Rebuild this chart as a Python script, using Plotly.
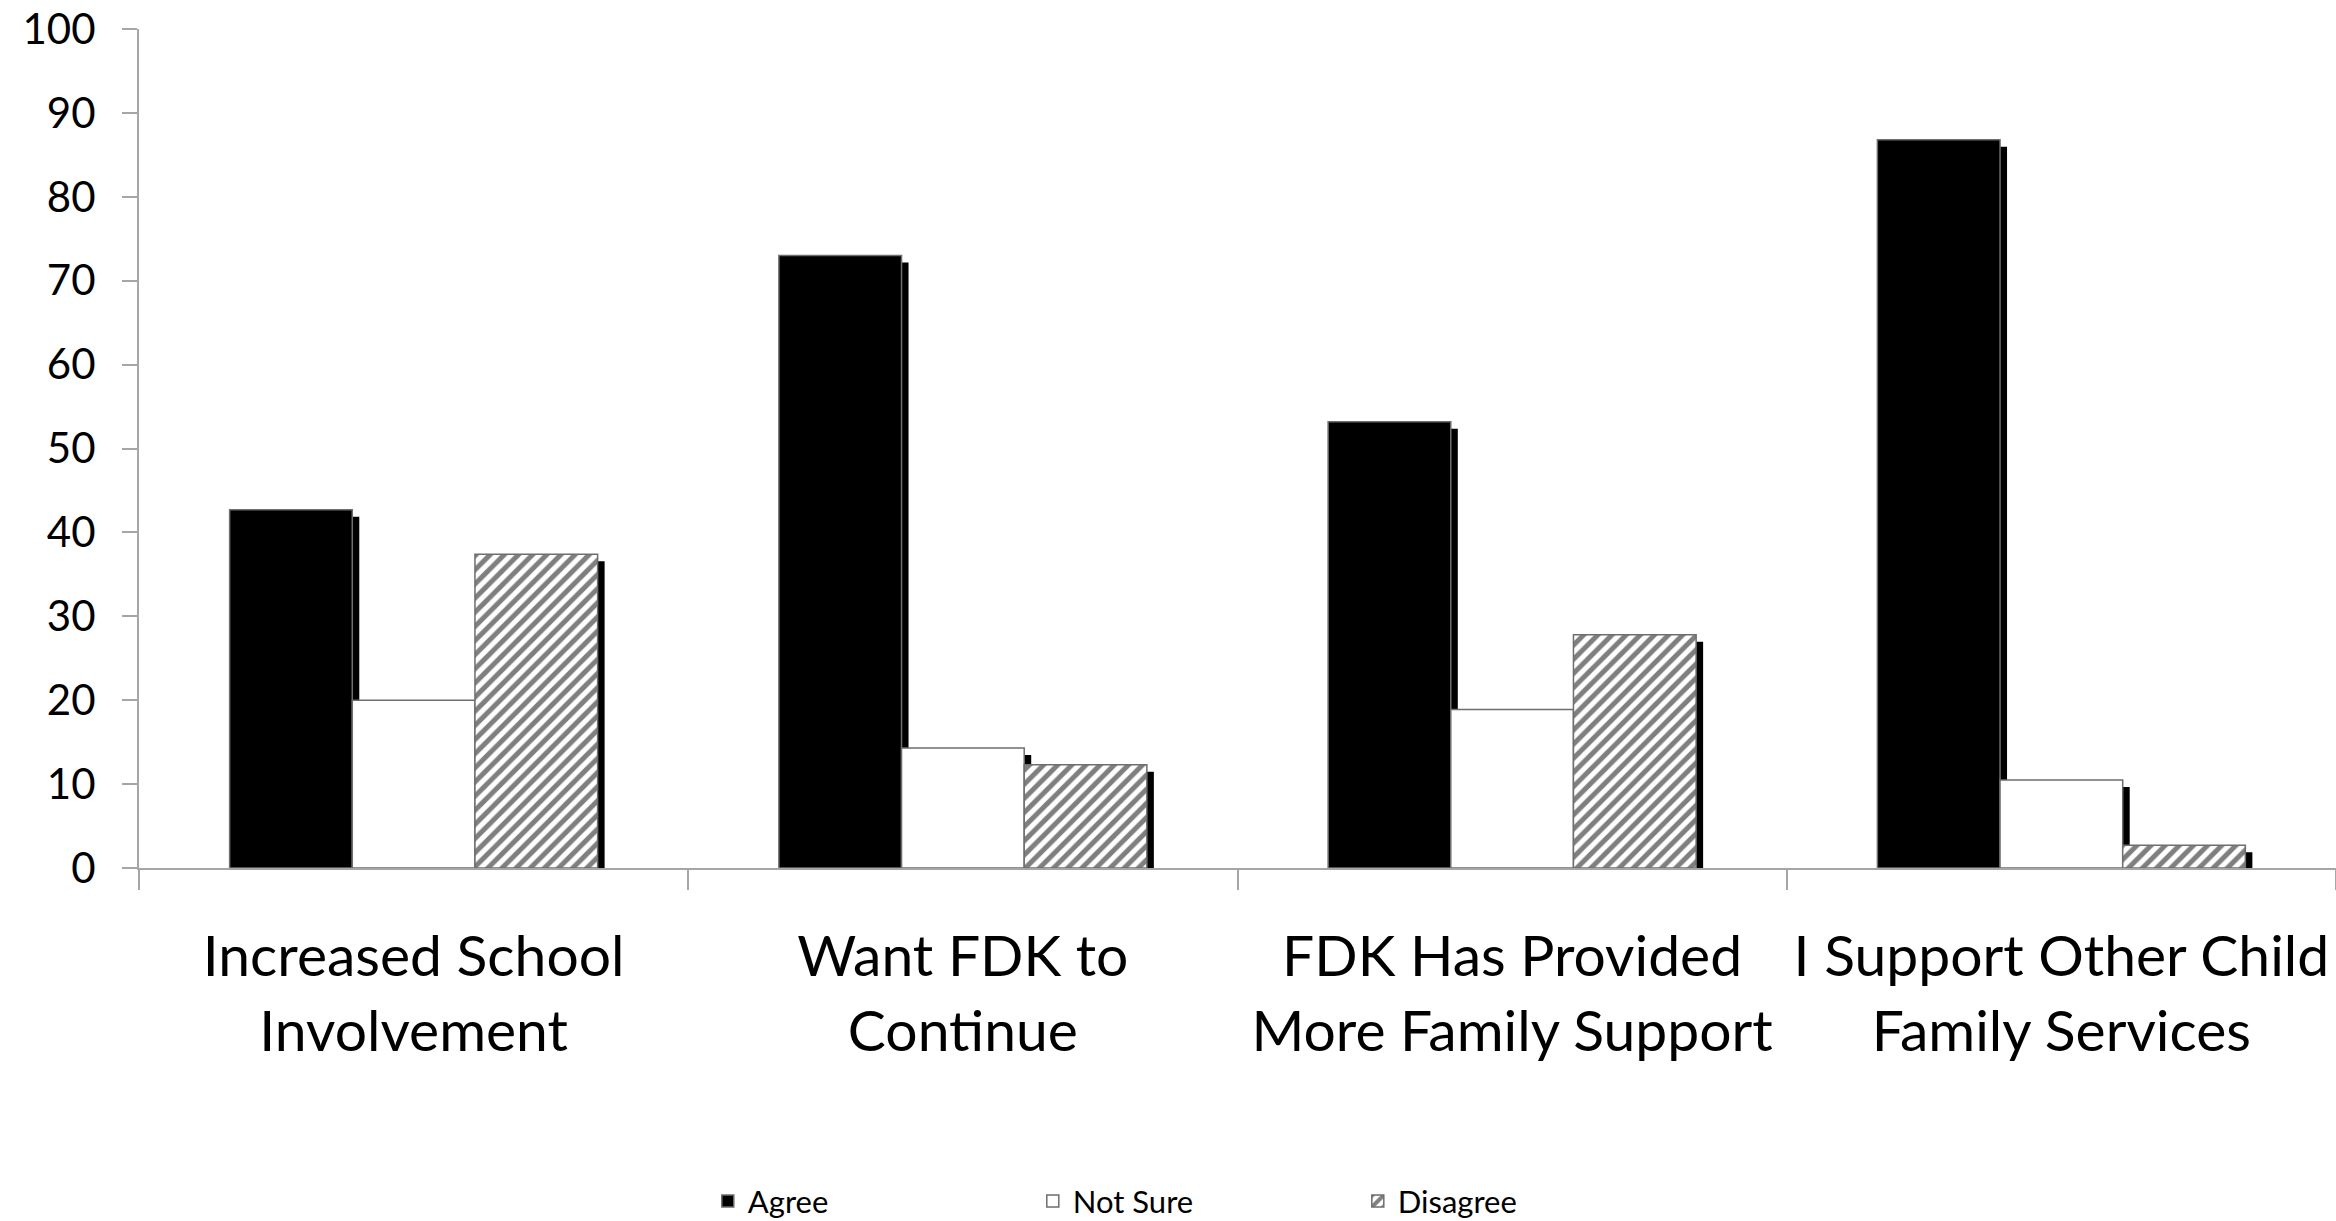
import plotly.graph_objects as go

# Survey responses (% of respondents) per statement
categories = [
    "Increased School<br>Involvement",
    "Want FDK to<br>Continue",
    "FDK Has Provided<br>More Family Support",
    "I Support Other Child<br>Family Services",
]
agree = [42.7, 73.0, 53.2, 86.8]
not_sure = [20.0, 14.3, 18.9, 10.5]
disagree = [37.4, 12.3, 27.8, 2.7]

series_names = ["Agree", "Not Sure", "Disagree"]
series_values = [agree, not_sure, disagree]

FONT = "Lato"
AXIS_GRAY = "#a6a6a6"
OUTLINE = "#6e6e6e"

# Plot-area geometry (pixels) used to translate the drop-shadow offset
FIG_W, FIG_H = 2336, 1221
M_L, M_R, M_T, M_B = 139, 0, 29, 353
plot_w = FIG_W - M_L - M_R
plot_h = FIG_H - M_T - M_B
SHADOW_PX = 7
dx = SHADOW_PX * len(categories) / plot_w
dy = SHADOW_PX * 100 / plot_h


def marker_for(name):
    if name == "Agree":
        return dict(color="black", line=dict(color=OUTLINE, width=1.5))
    if name == "Not Sure":
        return dict(color="white", line=dict(color=OUTLINE, width=1.5))
    return dict(
        color="white",
        line=dict(color=OUTLINE, width=1.5),
        pattern=dict(shape="/", fgcolor="black", bgcolor="white", size=10, solidity=0.5),
    )


fig = go.Figure()

# Drop shadows: same bars on a hidden pair of axes nudged right and down
for name, vals in zip(series_names, series_values):
    fig.add_trace(
        go.Bar(
            x=categories,
            y=vals,
            name=name + " shadow",
            marker=dict(color="black", line=dict(width=0)),
            xaxis="x",
            yaxis="y",
            showlegend=False,
            hoverinfo="skip",
        )
    )

# Main bars on the visible axes, layered above the shadows
for name, vals in zip(series_names, series_values):
    fig.add_trace(
        go.Bar(
            x=categories,
            y=vals,
            name=name,
            marker=marker_for(name),
            xaxis="x2",
            yaxis="y2",
        )
    )

fig.update_layout(
    width=FIG_W,
    height=FIG_H,
    margin=dict(l=M_L, r=M_R, t=M_T, b=M_B, autoexpand=False),
    paper_bgcolor="white",
    plot_bgcolor="white",
    barmode="group",
    bargap=0.33,
    bargroupgap=0,
    font=dict(family=FONT, color="black"),
    xaxis=dict(
        type="category",
        range=[-0.5 - dx, len(categories) - 0.5 - dx],
        visible=False,
        fixedrange=True,
        automargin=False,
    ),
    yaxis=dict(
        range=[dy, 100 + dy],
        visible=False,
        fixedrange=True,
        automargin=False,
    ),
    xaxis2=dict(
        type="category",
        overlaying="x",
        anchor="y2",
        side="bottom",
        range=[-0.5, len(categories) - 0.5],
        showline=True,
        linecolor=AXIS_GRAY,
        linewidth=2,
        showgrid=False,
        zeroline=False,
        ticks="outside",
        tickson="boundaries",
        ticklen=20,
        tickwidth=2,
        tickcolor=AXIS_GRAY,
        tickangle=0,
        automargin=False,
        tickfont=dict(family=FONT, size=57, color="black"),
        ticklabelstandoff=38,
    ),
    yaxis2=dict(
        overlaying="y",
        anchor="x2",
        side="left",
        range=[0, 100],
        tickmode="array",
        tickvals=list(range(0, 101, 10)),
        ticktext=[str(v) for v in range(0, 101, 10)],
        showline=True,
        linecolor=AXIS_GRAY,
        linewidth=2,
        showgrid=False,
        zeroline=False,
        ticks="outside",
        ticklen=15,
        tickwidth=2,
        tickcolor=AXIS_GRAY,
        automargin=False,
        tickfont=dict(family=FONT, size=42, color="black"),
        ticklabelstandoff=18,
    ),
    legend=dict(
        orientation="h",
        xref="container",
        yref="container",
        x=0.303,
        xanchor="left",
        y=0.016,
        yanchor="middle",
        entrywidth=280,
        entrywidthmode="pixels",
        font=dict(family=FONT, size=31, color="black"),
        traceorder="normal",
        bgcolor="rgba(0,0,0,0)",
    ),
)

fig.write_html("out.html")
